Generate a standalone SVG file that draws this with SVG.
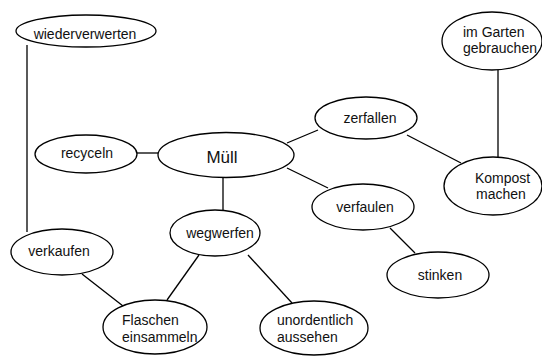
<svg xmlns="http://www.w3.org/2000/svg" width="542" height="356" viewBox="0 0 542 356">
<style>
.n ellipse{fill:#fff;stroke:#000;stroke-width:1.3}
.c line{stroke:#000;stroke-width:1.3}
text{font-family:"Liberation Sans",Arial,sans-serif;font-size:14px;fill:#111}
.m{text-anchor:middle}
</style>
<rect width="542" height="356" fill="#fff"/>
<g class="c" id="connectors">
<line x1="27" y1="45" x2="27" y2="232"/>
<line x1="137" y1="153" x2="158" y2="153"/>
<line x1="287" y1="143" x2="318" y2="130"/>
<line x1="407" y1="135" x2="461" y2="163"/>
<line x1="498" y1="70" x2="498" y2="157"/>
<line x1="287" y1="168" x2="328" y2="188"/>
<line x1="390" y1="228" x2="415" y2="253"/>
<line x1="223" y1="177" x2="223" y2="210"/>
<line x1="199" y1="255" x2="167" y2="300"/>
<line x1="248" y1="255" x2="292" y2="303"/>
<line x1="82" y1="274" x2="123" y2="306"/>
</g>
<g class="n" id="wiederverwerten"><ellipse cx="86" cy="31" rx="70" ry="16"/><text class="m" x="85" y="39">wiederverwerten</text></g>
<g class="n" id="recyceln"><ellipse cx="86" cy="154" rx="51" ry="19"/><text class="m" x="87" y="158">recyceln</text></g>
<g class="n" id="muell"><ellipse cx="226" cy="155" rx="68" ry="22.5"/><text class="m" x="222" y="163" style="font-size:17px">Müll</text></g>
<g class="n" id="zerfallen"><ellipse cx="366" cy="118" rx="51" ry="21"/><text class="m" x="370" y="123">zerfallen</text></g>
<g class="n" id="imgarten"><ellipse cx="492" cy="41" rx="50" ry="29"/><text x="463" y="37">im Garten</text><text x="463" y="53">gebrauchen</text></g>
<g class="n" id="kompost"><ellipse cx="493" cy="186" rx="49" ry="29"/><text x="475" y="183">Kompost</text><text x="476" y="199">machen</text></g>
<g class="n" id="verfaulen"><ellipse cx="363" cy="207" rx="51" ry="23"/><text class="m" x="365" y="212">verfaulen</text></g>
<g class="n" id="stinken"><ellipse cx="438" cy="275" rx="51" ry="23"/><text class="m" x="440" y="280">stinken</text></g>
<g class="n" id="wegwerfen"><ellipse cx="215" cy="233" rx="45" ry="23"/><text class="m" x="220" y="238">wegwerfen</text></g>
<g class="n" id="verkaufen"><ellipse cx="62" cy="252" rx="51" ry="23"/><text class="m" x="59" y="256">verkaufen</text></g>
<g class="n" id="flaschen"><ellipse cx="155" cy="327" rx="52" ry="27"/><text x="122" y="325">Flaschen</text><text x="122" y="342">einsammeln</text></g>
<g class="n" id="unordentlich"><ellipse cx="314" cy="328" rx="54" ry="27"/><text x="277" y="325">unordentlich</text><text x="277" y="342">aussehen</text></g>
</svg>
